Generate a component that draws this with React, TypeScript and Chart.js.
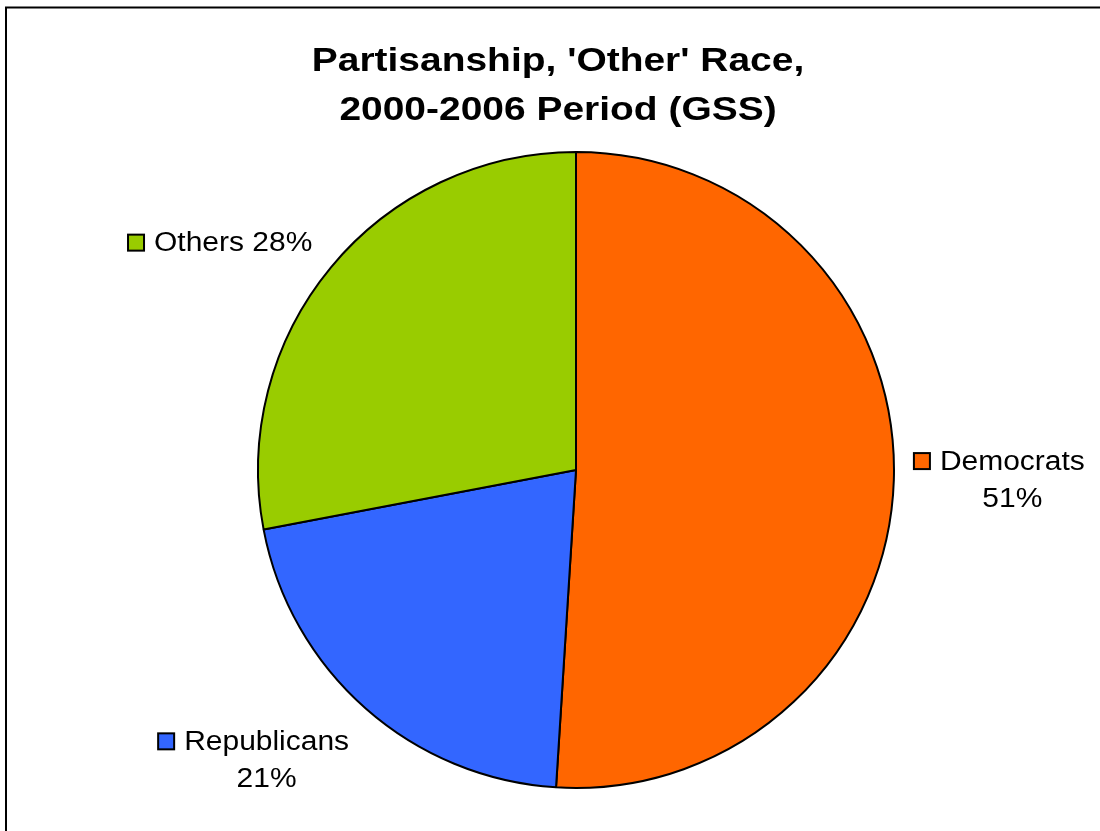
import React, { useEffect, useRef } from "react";
import { Chart, registerables } from "chart.js";

Chart.register(...registerables);

const categories = ["Democrats", "Republicans", "Others"];
const values = [51, 21, 28];
const colors = ["#FF6600", "#3366FF", "#99CC00"];
const titleLines = ["Partisanship, 'Other' Race,", "2000-2006 Period (GSS)"];
const labelLines = [["Democrats", "51%"], ["Republicans", "21%"], ["Others 28%"]];

const W = 1100;
const H = 831;

const decorPlugin = {
  id: "decor",
  afterDraw(chart: any) {
    const ctx = chart.ctx as CanvasRenderingContext2D;
    ctx.save();
    // frame
    ctx.strokeStyle = "#000";
    ctx.lineWidth = 2;
    ctx.beginPath();
    ctx.moveTo(6, H + 5);
    ctx.lineTo(6, 7.5);
    ctx.lineTo(W + 5, 7.5);
    ctx.stroke();

    // title
    ctx.fillStyle = "#000";
    ctx.font = "bold 33px 'Liberation Sans', Arial, sans-serif";
    ctx.textAlign = "center";
    ctx.textBaseline = "alphabetic";
    const tx = 558;
    titleLines.forEach((t, i) => {
      ctx.save();
      ctx.translate(tx, 71 + i * 49);
      ctx.scale(1.18, 1);
      ctx.fillText(t, 0, 0);
      ctx.restore();
    });

    // labels
    const meta = chart.getDatasetMeta(0);
    const fontPx = 27;
    const sx = 1.11;
    const lineH = 37;
    ctx.font = fontPx + "px 'Liberation Sans', Arial, sans-serif";
    meta.data.forEach((arc: any, i: number) => {
      const { x, y, startAngle, endAngle, outerRadius } = arc.getProps(
        ["x", "y", "startAngle", "endAngle", "outerRadius"],
        true
      );
      const mid = (startAngle + endAngle) / 2;
      const r = outerRadius * 1.06;
      const px = x + Math.cos(mid) * r;
      const py = y + Math.sin(mid) * r;
      const lines = labelLines[i];
      const widths = lines.map((l) => ctx.measureText(l).width * sx);
      const textW = Math.max(...widths);
      const keyS = 18;
      const keyGap = 9;
      const blockW = keyS + keyGap + textW;
      const blockH = lines.length * lineH;
      let left: number;
      let top: number;
      if (px >= x) {
        left = px;
        top = py - blockH / 2 - 1;
      } else {
        left = px - blockW - 4;
        top = py < y ? py - blockH + 6 : py;
      }
      const textCx = left + keyS + keyGap + textW / 2;
      const ky = top + lineH / 2 - keyS / 2 + 1;
      ctx.fillStyle = colors[i];
      ctx.fillRect(left + 1, ky, keyS - 2, keyS - 2);
      ctx.strokeStyle = "#000";
      ctx.lineWidth = 2;
      ctx.strokeRect(left + 1, ky, keyS - 2, keyS - 2);
      ctx.fillStyle = "#000";
      ctx.textAlign = "center";
      ctx.textBaseline = "middle";
      lines.forEach((l, j) => {
        ctx.save();
        ctx.translate(textCx, top + lineH / 2 + j * lineH + 1);
        ctx.scale(sx, 1);
        ctx.fillText(l, 0, 0);
        ctx.restore();
      });
    });
    ctx.restore();
  },
};

export default function App() {
  const ref = useRef<HTMLCanvasElement>(null);
  useEffect(() => {
    document.body.style.margin = "0";
    const canvas = ref.current!;
    const chart = new Chart(canvas, {
      type: "pie",
      data: {
        labels: categories,
        datasets: [
          {
            data: values,
            backgroundColor: colors,
            borderColor: "#000",
            borderWidth: 2,
            borderAlign: "center",
            radius: 318,
          } as any,
        ],
      },
      options: {
        responsive: false,
        animation: false,
        devicePixelRatio: 1,
        layout: { padding: { left: 200, right: 148, top: 140, bottom: 31 } },
        plugins: {
          legend: { display: false },
          title: { display: false },
          tooltip: { enabled: false },
        },
      },
      plugins: [decorPlugin],
    });
    return () => chart.destroy();
  }, []);
  return (
    <div style={{ width: W, height: H, background: "#fff" }}>
      <canvas ref={ref} width={W} height={H} style={{ display: "block" }} />
    </div>
  );
}
